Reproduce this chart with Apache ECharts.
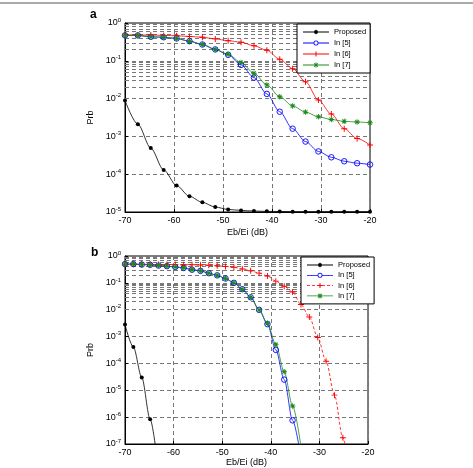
<!DOCTYPE html>
<html>
<head>
<meta charset="utf-8">
<script src="https://cdn.jsdelivr.net/npm/echarts@6/dist/echarts.min.js"></script>
<style>
  html, body { margin: 0; padding: 0; background: #fff; }
</style>
</head>
<body>
<div id="chart" style="width: 473px;height:468px;"></div>
<script>
// sample points on Eb/Ei axis (dB)
var xA = [-70, -67.37, -64.74, -62.11, -59.47, -56.84, -54.21, -51.58, -48.95, -46.32,
          -43.68, -41.05, -38.42, -35.79, -33.16, -30.53, -27.89, -25.26, -22.63, -20];
var xB = [-70, -68.28, -66.55, -64.83, -63.10, -61.38, -59.66, -57.93, -56.21, -54.48,
          -52.76, -51.03, -49.31, -47.59, -45.86, -44.14, -42.41, -40.69, -38.97, -37.24,
          -35.52, -33.79, -32.07, -30.34, -28.62, -26.90, -25.17, -23.45, -21.72, -20];
var names = ['Proposed', 'In [5]', 'In [6]', 'In [7]'];
var colors = ['#000', '#0000ff', '#ff0000', '#1a8a1a'];

// panel a
var propA = [8.9e-3, 2.1e-3, 4.9e-4, 1.3e-4, 5.0e-5, 2.6e-5, 1.8e-5, 1.35e-5, 1.17e-5, 1.1e-5,
             1.06e-5, 1.04e-5, 1.03e-5, 1.02e-5, 1.02e-5, 1.02e-5, 1.02e-5, 1.02e-5, 1.02e-5, 1.02e-5];
var in5A = [0.47, 0.47, 0.43, 0.42, 0.39, 0.33, 0.27, 0.20, 0.144, 0.078,
            0.036, 0.0133, 4.5e-3, 1.6e-3, 7.3e-4, 4.0e-4, 2.8e-4, 2.2e-4, 1.95e-4, 1.8e-4];
var in6A = [0.48, 0.48, 0.48, 0.47, 0.46, 0.44, 0.42, 0.38, 0.34, 0.31,
            0.25, 0.19, 0.11, 0.062, 0.028, 9.2e-3, 3.9e-3, 1.6e-3, 8.8e-4, 5.9e-4];
var in7A = [0.47, 0.47, 0.43, 0.42, 0.39, 0.33, 0.27, 0.20, 0.15, 0.090,
            0.047, 0.023, 0.0112, 0.0064, 0.0044, 0.0033, 0.0028, 0.0025, 0.0024, 0.0023];

// panel b
var propB = [2.8e-3, 4.1e-4, 3.0e-5, 8.3e-7, 1e-8];
var in5B = [0.50, 0.50, 0.48, 0.47, 0.44, 0.42, 0.39, 0.36, 0.31, 0.28,
            0.23, 0.19, 0.145, 0.10, 0.058, 0.029, 0.0099, 0.0029, 3.2e-4, 2.5e-5, 7.6e-7, 3e-8];
var in6B = [0.49, 0.49, 0.49, 0.49, 0.48, 0.48, 0.48, 0.47, 0.47, 0.46,
            0.45, 0.43, 0.41, 0.38, 0.33, 0.28, 0.23, 0.18, 0.116, 0.075,
            0.046, 0.0155, 0.0054, 9.3e-4, 1.2e-4, 6.6e-6, 1.7e-7, 2e-9];
var in7B = [0.50, 0.50, 0.48, 0.47, 0.44, 0.42, 0.39, 0.36, 0.31, 0.28,
            0.23, 0.19, 0.145, 0.10, 0.058, 0.029, 0.0099, 0.0031, 5e-4, 4.9e-5, 2.6e-6, 8e-8];

var FONT = 'Liberation Sans';
var PLUS = 'path://M4.2,0 L5.8,0 L5.8,10 L4.2,10 Z M0,4.2 L10,4.2 L10,5.8 L0,5.8 Z';
var STAR = 'path://M4.2,0 L5.8,0 L5.8,10 L4.2,10 Z M0,4.2 L10,4.2 L10,5.8 L0,5.8 Z ' +
           'M1.9,0.8 L9.2,8.1 L8.1,9.2 L0.8,1.9 Z M8.1,0.8 L9.2,1.9 L1.9,9.2 L0.8,8.1 Z';
var gridStyle = {color: '#777', width: 1, type: [4, 3]};

// legend icons: line + marker in a 26 x 5 box
var LINE = 'M0,2.1 L26,2.1 L26,2.9 L0,2.9 Z ';
var LINE_SPLIT = 'M0,2.1 L10.5,2.1 L10.5,2.9 L0,2.9 Z M15.5,2.1 L26,2.1 L26,2.9 L15.5,2.9 Z ';
var DASH = 'M0,2.1 L3,2.1 L3,2.9 L0,2.9 Z M5,2.1 L8,2.1 L8,2.9 L5,2.9 Z M10,2.1 L13,2.1 L13,2.9 L10,2.9 Z ' +
           'M15,2.1 L18,2.1 L18,2.9 L15,2.9 Z M20,2.1 L23,2.1 L23,2.9 L20,2.9 Z M25,2.1 L26,2.1 L26,2.9 L25,2.9 Z ';
var DOT_M = 'M15,2.5 A2,2 0 1 1 11,2.5 A2,2 0 1 1 15,2.5 Z M12.6,0 L13.4,0 L13.4,0.3 L12.6,0.3 Z M12.6,4.7 L13.4,4.7 L13.4,5 L12.6,5 Z';
var RING_M = 'M15.5,2.5 A2.5,2.5 0 1 1 10.5,2.5 A2.5,2.5 0 1 1 15.5,2.5 Z M14.7,2.5 A1.7,1.7 0 1 0 11.3,2.5 A1.7,1.7 0 1 0 14.7,2.5 Z';
var PLUS_M = 'M12.5,0 L13.5,0 L13.5,5 L12.5,5 Z M10.5,2.0 L15.5,2.0 L15.5,3.0 L10.5,3.0 Z';
var STAR_M = 'M12.5,0 L13.5,0 L13.5,5 L12.5,5 Z M10.5,2.0 L15.5,2.0 L15.5,3.0 L10.5,3.0 Z ' +
             'M11.3,0.4 L15.3,4.0 L14.7,4.6 L10.7,1.0 Z M14.7,0.4 L15.3,1.0 L11.3,4.6 L10.7,4.0 Z';
var iconsA = ['path://' + LINE + DOT_M, 'path://' + LINE_SPLIT + RING_M, 'path://' + LINE + PLUS_M, 'path://' + LINE + STAR_M];
var iconsB = ['path://' + LINE + DOT_M, 'path://' + LINE_SPLIT + RING_M, 'path://' + DASH + PLUS_M, 'path://' + LINE + STAR_M];

function zip(xs, ys) {
  var out = [];
  for (var i = 0; i < ys.length; i++) out.push([xs[i], ys[i]]);
  return out;
}
// minor log grid values 2..9 x 10^k
function minorLines(lo, hi) {
  var out = [];
  for (var e = lo; e < hi; e++) {
    for (var m = 2; m <= 9; m++) out.push({yAxis: m * Math.pow(10, e)});
  }
  return out;
}

function xAxisOpt(idx, gap) {
  return {
    type: 'value', gridIndex: idx, min: -70, max: -20, interval: 10,
    name: 'Eb/Ei (dB)', nameLocation: 'middle', nameGap: gap,
    nameTextStyle: {fontFamily: FONT, fontSize: 9, color: '#000'},
    axisLine: {onZero: false, lineStyle: {color: '#000', width: 1}},
    axisTick: {inside: true, length: 3, lineStyle: {color: '#000'}},
    axisLabel: {fontFamily: FONT, fontSize: 9, color: '#000', margin: 4},
    splitLine: {show: true, lineStyle: gridStyle}
  };
}
function yAxisOpt(idx, minExp) {
  return {
    type: 'log', logBase: 10, gridIndex: idx, min: Math.pow(10, minExp), max: 1, interval: 1,
    name: 'Prb', nameLocation: 'middle', nameGap: 22,
    nameTextStyle: {fontFamily: FONT, fontSize: 9, color: '#000'},
    axisLine: {lineStyle: {color: '#000', width: 1}},
    axisTick: {inside: true, length: 3, lineStyle: {color: '#000'}},
    axisLabel: {
      fontFamily: FONT, fontSize: 9, color: '#000', margin: 4, lineHeight: 12,
      formatter: function (v) {
        return '10{s|' + Math.round(Math.log10(v)) + '}';
      },
      rich: {s: {fontFamily: FONT, fontSize: 6, lineHeight: 12, verticalAlign: 'top', padding: [0, 0, 5, 0]}}
    },
    splitLine: {show: true, lineStyle: gridStyle}
  };
}
function curve(k, idx, data, symbol, size, dashed, hollow) {
  var color = colors[k];
  return {
    name: names[k], type: 'line', xAxisIndex: idx, yAxisIndex: idx, data: data,
    smooth: 0.3, smoothMonotone: 'x', clip: true, z: 3,
    symbol: symbol, symbolSize: size, showSymbol: true,
    itemStyle: {color: hollow ? 'rgba(0,0,0,0)' : color, borderColor: color, borderWidth: hollow ? 0.9 : 0},
    lineStyle: {color: color, width: 0.8, type: dashed ? [3, 2] : 'solid'},
    emphasis: {disabled: true}
  };
}
function gridSeries(idx, minExp) {
  return {
    type: 'line', xAxisIndex: idx, yAxisIndex: idx, data: [], z: 1, silent: true,
    markLine: {
      silent: true, z: 1, symbol: ['none', 'none'], label: {show: false}, animation: false,
      lineStyle: gridStyle, data: minorLines(minExp, 0)
    }
  };
}
function legendOpt(left, top, gap, icons) {
  var data = [];
  for (var i = 0; i < names.length; i++) {
    data.push({name: names[i], icon: icons[i], itemStyle: {color: colors[i], borderWidth: 0}});
  }
  return {
    orient: 'vertical', left: left, top: top, data: data, z: 10,
    itemWidth: 26, itemHeight: 5, itemGap: gap, padding: [4, 4, 4, 6],
    backgroundColor: '#fff', borderColor: '#000', borderWidth: 1, borderRadius: 0,
    selectedMode: false,
    itemStyle: {borderWidth: 0},
    textStyle: {fontFamily: FONT, fontSize: 7.5, color: '#000'}
  };
}

var chart = echarts.init(document.getElementById('chart'));
chart.setOption({
  animation: false,
  backgroundColor: '#fff',
  grid: [
    {left: 125, right: 103, top: 23, height: 189, show: true, borderColor: '#000', borderWidth: 1, backgroundColor: 'transparent'},
    {left: 125, right: 105, top: 256, height: 192, show: true, borderColor: '#000', borderWidth: 1, backgroundColor: 'transparent'}
  ],
  legend: [legendOpt(297, 24, 3, iconsA), legendOpt(301, 257, 2.3, iconsB)],
  xAxis: [xAxisOpt(0, 16), xAxisOpt(1, 14)],
  yAxis: [yAxisOpt(0, -5), yAxisOpt(1, -7)],
  graphic: [
    {type: 'line', shape: {x1: 0, y1: 3, x2: 473, y2: 3}, style: {stroke: '#aaa', lineWidth: 2}},
    {type: 'text', left: 90, top: 9, style: {text: 'a', font: 'bold 12px "Liberation Sans"', fill: '#000'}},
    {type: 'text', left: 91, top: 247, style: {text: 'b', font: 'bold 12px "Liberation Sans"', fill: '#000'}}
  ],
  series: [
    gridSeries(0, -5),
    gridSeries(1, -7),
    curve(0, 0, zip(xA, propA), 'circle', 4, false, false),
    curve(1, 0, zip(xA, in5A), 'circle', 5.5, false, true),
    curve(2, 0, zip(xA, in6A), PLUS, 6, false, false),
    curve(3, 0, zip(xA, in7A), STAR, 5.5, false, false),
    curve(0, 1, zip(xB, propB), 'circle', 4, false, false),
    curve(1, 1, zip(xB, in5B), 'circle', 5.5, false, true),
    curve(2, 1, zip(xB, in6B), PLUS, 6, true, false),
    curve(3, 1, zip(xB, in7B), STAR, 5.5, false, false)
  ]
});
</script>
</body>
</html>
